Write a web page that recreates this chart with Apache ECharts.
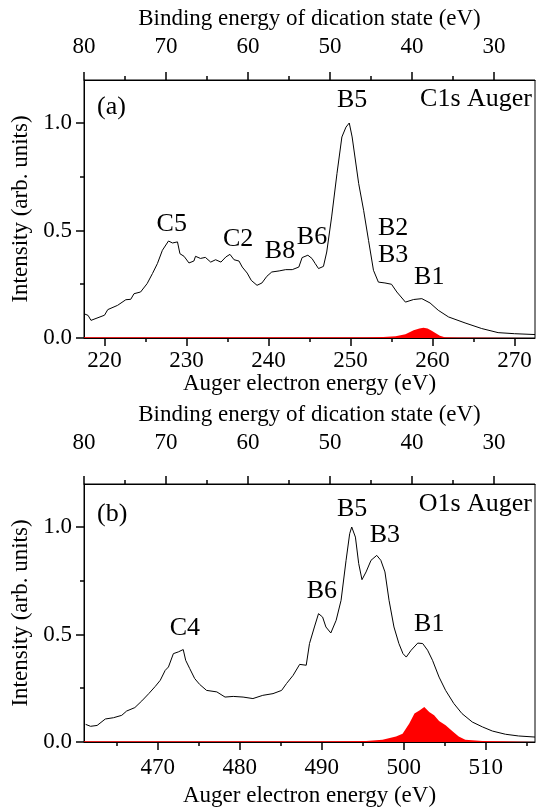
<!DOCTYPE html>
<html>
<head>
<meta charset="utf-8">
<script src="https://cdn.jsdelivr.net/npm/echarts@6/dist/echarts.min.js"></script>
<style>
  html, body { margin: 0; padding: 0; background: #fff; }
  #chart { width: 537px; height: 809px; }
</style>
</head>
<body>
<div id="chart"></div>
<script>
// (a) C1s Auger spectrum
const keC1s = [217.5, 218.0, 218.35, 220.0, 220.4, 221.6, 222.6, 223.2, 223.6, 224.4, 225.2, 225.85, 226.45, 227.06, 227.8, 228.3, 228.9, 229.2, 229.7, 230.3, 230.9, 231.1, 231.7, 232.3, 232.95, 233.55, 234.2, 234.8, 235.3, 235.8, 236.4, 236.8, 237.4, 237.9, 238.6, 239.2, 239.8, 240.4, 241.3, 242.1, 242.9, 243.7, 244.1, 244.8, 245.3, 245.7, 246.1, 246.7, 247.1, 247.7, 248.35, 248.95, 249.45, 249.85, 250.2, 251.0, 251.6, 252.2, 252.8, 253.4, 254.2, 255.0, 255.65, 256.7, 257.7, 258.7, 259.7, 260.7, 261.95, 263.97, 266.0, 268.0, 270.0, 272.5]
const intC1s = [0.113, 0.105, 0.082, 0.106, 0.132, 0.152, 0.178, 0.18, 0.206, 0.214, 0.253, 0.3, 0.346, 0.408, 0.451, 0.442, 0.447, 0.392, 0.38, 0.349, 0.358, 0.38, 0.37, 0.375, 0.353, 0.364, 0.353, 0.377, 0.389, 0.364, 0.358, 0.33, 0.302, 0.268, 0.245, 0.256, 0.287, 0.307, 0.312, 0.318, 0.318, 0.33, 0.374, 0.385, 0.37, 0.346, 0.323, 0.333, 0.4, 0.563, 0.765, 0.935, 0.981, 1.0, 0.935, 0.718, 0.594, 0.454, 0.315, 0.26, 0.256, 0.25, 0.214, 0.167, 0.179, 0.183, 0.163, 0.129, 0.098, 0.07, 0.044, 0.025, 0.02, 0.016]
const keC1sRed = [217.5, 230, 245, 252, 254, 255.5, 256.7, 257.7, 258.4, 258.9, 259.4, 259.9, 260.9, 261.5, 263, 272.5]
const intC1sRed = [0.003, 0.003, 0.003, 0.004, 0.005, 0.008, 0.017, 0.036, 0.044, 0.048, 0.044, 0.034, 0.01, 0.004, 0.002, 0.002]

// (b) O1s Auger spectrum
const keO1s = [461.2, 461.8, 462.6, 463.6, 464.6, 465.6, 466.2, 467.2, 468.05, 468.9, 469.7, 470.3, 470.9, 471.3, 471.9, 472.5, 473.1, 473.4, 473.9, 474.5, 475.1, 475.95, 477.2, 478.2, 479.2, 480.4, 481.6, 482.8, 484.05, 485.1, 485.7, 486.5, 487.3, 488.1, 488.5, 489.1, 489.6, 490.1, 490.5, 491.1, 491.75, 492.35, 492.96, 493.4, 493.65, 494.1, 494.5, 494.9, 495.4, 496.0, 496.7, 497.2, 497.7, 498.2, 498.8, 499.4, 499.9, 500.3, 500.9, 501.7, 502.3, 502.9, 503.5, 504.3, 505.1, 506.1, 507.1, 508.35, 509.6, 510.8, 512.4, 514.0, 516.0]
const intO1s = [0.082, 0.073, 0.077, 0.107, 0.113, 0.124, 0.144, 0.16, 0.191, 0.225, 0.259, 0.287, 0.333, 0.349, 0.411, 0.419, 0.43, 0.38, 0.341, 0.295, 0.268, 0.24, 0.233, 0.209, 0.212, 0.209, 0.202, 0.217, 0.225, 0.24, 0.272, 0.31, 0.361, 0.357, 0.458, 0.535, 0.597, 0.581, 0.535, 0.507, 0.566, 0.659, 0.845, 0.969, 1.0, 0.953, 0.83, 0.755, 0.791, 0.845, 0.868, 0.845, 0.791, 0.659, 0.535, 0.458, 0.411, 0.395, 0.427, 0.46, 0.458, 0.427, 0.38, 0.302, 0.24, 0.179, 0.132, 0.093, 0.07, 0.051, 0.036, 0.028, 0.023]
const keO1sRed = [461, 475, 490, 495.4, 497.4, 499.05, 499.85, 500.65, 501.3, 501.9, 502.5, 503.1, 503.7, 504.3, 505.1, 505.9, 506.7, 507.5, 509.6, 512, 516]
const intO1sRed = [0.004, 0.004, 0.004, 0.005, 0.011, 0.026, 0.038, 0.085, 0.132, 0.147, 0.163, 0.14, 0.124, 0.098, 0.078, 0.051, 0.026, 0.011, 0.005, 0.003, 0.003]

// peak labels: name, Auger energy, intensity
const labelsC1s = [['B5', 250.2, 1.107], ['C5', 228.2, 0.529], ['C2', 236.3, 0.46], ['B8', 241.4, 0.404], ['B6', 245.3, 0.469], ['B2', 255.2, 0.511], ['B3', 255.2, 0.385], ['B1', 259.6, 0.283]]
const labelsO1s = [['C4', 473.3, 0.529], ['B6', 490.0, 0.702], ['B5', 493.7, 1.084], ['B3', 497.7, 0.963], ['B1', 503.1, 0.548]]

// ticks
const yMajor = [0, 0.5, 1.0]
const yMinor = [0.25, 0.75]
const keMajorC1s = [220, 230, 240, 250, 260, 270]
const keMinorC1s = [225, 235, 245, 255, 265]
const keMajorO1s = [470, 480, 490, 500, 510]
const keMinorO1s = [465, 475, 485, 495, 505, 515]
const beMajor = [30, 40, 50, 60, 70, 80]
const beMinor = [35, 45, 55, 65, 75]

const font = 'Liberation Serif'
const yMax = 1.2
const zip = (xs, ys) => xs.map((x, i) => [x, ys[i]])
const textStyle = { color: '#000', fontFamily: font, fontSize: 23 }
const black = { color: '#000', width: 1 }

function axisBase(o) {
  return {
    type: 'value', gridIndex: o.grid, position: o.position, min: o.min, max: o.max, inverse: !!o.inverse,
    name: o.name, nameLocation: 'middle', nameGap: o.nameGap, nameRotate: o.nameRotate, nameTextStyle: textStyle,
    splitLine: { show: false },
    axisLine: { show: true, onZero: false, lineStyle: black },
    axisTick: { show: false },
    axisLabel: Object.assign({ show: true, customValues: o.labels, margin: o.margin, formatter: o.fmt }, textStyle)
  }
}

function panelAxes(p) {
  return {
    x: [
      axisBase({ grid: p.grid, position: 'bottom', min: p.keMin, max: p.keMax, labels: p.keMajor, margin: p.bottomMargin,
        name: 'Auger electron energy (eV)', nameGap: p.bottomNameGap }),
      axisBase({ grid: p.grid, position: 'top', min: p.beOffset - p.keMax, max: p.beOffset - p.keMin, inverse: true,
        labels: beMajor, margin: p.topMargin, name: 'Binding energy of dication state (eV)', nameGap: p.topNameGap })
    ],
    y: [
      axisBase({ grid: p.grid, position: 'left', min: 0, max: yMax, labels: yMajor, margin: 12, fmt: v => v.toFixed(1),
        name: 'Intensity (arb. units)', nameGap: 52, nameRotate: 90 })
    ]
  }
}

const panelA = { grid: 0, xi: 0, yi: 0, keMin: 217.5, keMax: 272.5, beOffset: 297.5, keMajor: keMajorC1s, keMinor: keMinorC1s,
  bottomMargin: 11, bottomNameGap: 32, topMargin: 22, topNameGap: 50 }
const panelB = { grid: 1, xi: 2, yi: 1, keMin: 461, keMax: 516, beOffset: 541, keMajor: keMajorO1s, keMinor: keMinorO1s,
  bottomMargin: 14, bottomNameGap: 42, topMargin: 30, topNameGap: 58 }
const axA = panelAxes(panelA)
const axB = panelAxes(panelB)

function spectrum(p, ke, inten) {
  return {
    type: 'line', xAxisIndex: p.xi, yAxisIndex: p.yi, data: zip(ke, inten),
    symbol: 'none', lineStyle: { color: '#000', width: 1 }, z: 3
  }
}
function redArea(p, ke, inten) {
  return {
    type: 'line', xAxisIndex: p.xi, yAxisIndex: p.yi, data: zip(ke, inten),
    symbol: 'none', lineStyle: { width: 0 }, itemStyle: { color: '#ff0000' },
    areaStyle: { color: '#ff0000', opacity: 1 }, z: 2
  }
}
function peakLabels(p, list) {
  return {
    type: 'scatter', xAxisIndex: p.xi, yAxisIndex: p.yi, symbolSize: 1,
    itemStyle: { color: 'rgba(0,0,0,0)', opacity: 1 },
    data: list.map(d => ({ name: d[0], value: [d[1], d[2]] })),
    label: { show: true, position: 'inside', formatter: q => q.name, color: '#000', opacity: 1, fontFamily: font, fontSize: 26 },
    z: 4
  }
}

const panelTexts = [
  { type: 'text', left: 97, top: 94, style: { text: '(a)', font: "26px 'Liberation Serif'", fill: '#000' } },
  { type: 'text', right: 5, top: 86, style: { text: 'C1s Auger', font: "26px 'Liberation Serif'", fill: '#000' } },
  { type: 'text', left: 97, top: 501, style: { text: '(b)', font: "26px 'Liberation Serif'", fill: '#000' } },
  { type: 'text', right: 5, top: 491, style: { text: 'O1s Auger', font: "26px 'Liberation Serif'", fill: '#000' } }
]

const chart = echarts.init(document.getElementById('chart'))
chart.setOption({
  animation: false,
  grid: [
    { left: 84, top: 80, width: 451, height: 258, show: true, borderColor: '#000', borderWidth: 1 },
    { left: 84, top: 484, width: 451, height: 258, show: true, borderColor: '#000', borderWidth: 1 }
  ],
  xAxis: axA.x.concat(axB.x),
  yAxis: axA.y.concat(axB.y),
  series: [
    redArea(panelA, keC1sRed, intC1sRed),
    spectrum(panelA, keC1s, intC1s),
    peakLabels(panelA, labelsC1s),
    redArea(panelB, keO1sRed, intO1sRed),
    spectrum(panelB, keO1s, intO1s),
    peakLabels(panelB, labelsO1s)
  ],
  graphic: panelTexts
})

// outward tick marks, positioned with the axis scales
function tickLines(p, points, dir, len) {
  return points.map(v => {
    const c = chart.convertToPixel({ xAxisIndex: p.xi, yAxisIndex: p.yi }, v)
    const x = Math.round(c[0])
    const y = Math.round(c[1])
    return {
      type: 'line', silent: true, z: 100,
      shape: { x1: x, y1: y, x2: x + dir[0] * len, y2: y + dir[1] * len },
      style: { stroke: '#000', lineWidth: 1.5 }
    }
  })
}
function panelTicks(p) {
  const bottom = v => [v, 0]
  const top = be => [p.beOffset - be, yMax]
  const left = v => [p.keMin, v]
  return [].concat(
    tickLines(p, p.keMajor.map(bottom), [0, 1], 8),
    tickLines(p, p.keMinor.map(bottom), [0, 1], 4),
    tickLines(p, beMajor.map(top), [0, -1], 8),
    tickLines(p, beMinor.map(top), [0, -1], 4),
    tickLines(p, yMajor.map(left), [-1, 0], 8),
    tickLines(p, yMinor.map(left), [-1, 0], 4)
  )
}

chart.setOption({ graphic: panelTexts.concat(panelTicks(panelA), panelTicks(panelB)) })
</script>
</body>
</html>
